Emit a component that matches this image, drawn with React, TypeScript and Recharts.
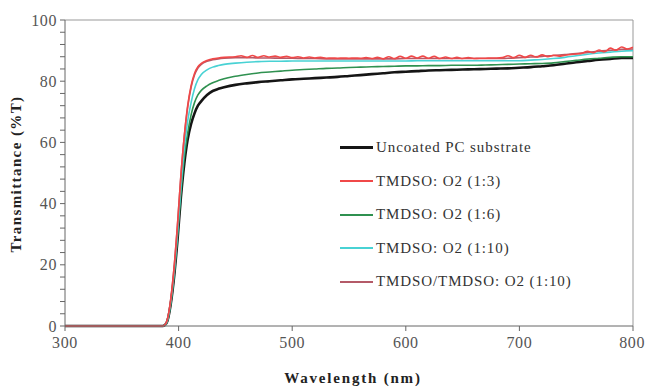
import { LineChart, Line, XAxis, YAxis, ReferenceLine } from 'recharts';

const FONT = '"Liberation Serif", "Times New Roman", serif';

// wavelength grid for the smooth curves (nm)
const WAVELENGTH = [
  300, 386, 388, 390, 393, 396, 399, 402, 405, 408, 411, 414, 417, 420, 425, 430, 435, 440, 450,
  460, 470, 480, 490, 500, 510, 520, 530, 540, 550, 560, 570, 580, 590, 600, 610, 620, 630, 640,
  650, 660, 670, 680, 690, 700, 710, 720, 730, 740, 750, 760, 770, 780, 790, 800,
];

const UNCOATED = [
  0, 0, 0.3, 1.5, 7, 16, 28, 42, 53, 61, 66, 69.5, 72, 73.5, 75.5, 76.8, 77.5, 78, 78.8,
  79.3, 79.7, 80, 80.3, 80.6, 80.8, 81, 81.2, 81.4, 81.7, 82, 82.3, 82.6, 82.9, 83.1, 83.3, 83.5, 83.6, 83.7,
  83.8, 83.9, 84, 84.1, 84.2, 84.4, 84.6, 84.9, 85.2, 85.7, 86.2, 86.6, 87, 87.3, 87.6, 87.6,
];

const RATIO_1_6 = [
  0, 0, 0.3, 1.5, 7, 16.5, 29, 43, 55, 63, 69, 73, 75.5, 77, 78.5, 79.5, 80.2, 80.8, 81.6,
  82.2, 82.7, 83, 83.3, 83.6, 83.8, 84, 84.2, 84.3, 84.5, 84.6, 84.7, 84.8, 84.9, 85, 85, 85.1, 85.1, 85.2,
  85.2, 85.2, 85.3, 85.4, 85.5, 85.6, 85.7, 85.8, 86, 86.4, 86.8, 87.2, 87.5, 87.8, 88, 88,
];

const RATIO_1_10 = [
  0, 0, 0.3, 1.6, 7.5, 17, 30, 45, 58, 67, 73, 77.5, 80.5, 82.2, 83.7, 84.6, 85.1, 85.5, 85.9,
  86.2, 86.4, 86.5, 86.5, 86.6, 86.6, 86.6, 86.6, 86.6, 86.6, 86.6, 86.6, 86.6, 86.6, 86.6, 86.7, 86.7, 86.7, 86.7,
  86.7, 86.7, 86.7, 86.7, 86.7, 86.7, 86.9, 87.1, 87.4, 87.8, 88.3, 88.8, 89.2, 89.5, 89.8, 90,
];

const BILAYER_1_10 = [
  0, 0, 0.4, 2, 8.5, 19, 33, 49, 62, 71.5, 78, 82, 84.3, 85.5, 86.5, 87, 87.3, 87.5, 87.7,
  87.7, 87.6, 87.6, 87.5, 87.5, 87.4, 87.4, 87.3, 87.3, 87.3, 87.3, 87.3, 87.3, 87.3, 87.4, 87.4, 87.4, 87.4, 87.4,
  87.4, 87.4, 87.4, 87.4, 87.5, 87.7, 87.9, 88.1, 88.4, 88.7, 89, 89.4, 89.8, 90.1, 90.4, 90.5,
];

// the 1:3 curve carries interference fringes, so it is read on a finer grid
const WAVELENGTH_FINE = [
  300, 386, 388, 390, 393, 396, 399, 402, 405, 408, 411, 414, 417, 420, 425, 430, 435, 440, 450,
  455, 460, 465, 470, 475, 480, 485, 490, 495, 500, 505, 510, 515, 520, 525, 530, 535, 540, 545, 550,
  555, 560, 565, 570, 575, 580, 585, 590, 595, 600, 605, 610, 615, 620, 625, 630, 635, 640, 645, 650,
  655, 660, 665, 670, 675, 680, 685, 690, 695, 700, 705, 710, 715, 720, 725, 730, 735, 740, 745, 750,
  755, 760, 765, 770, 775, 780, 785, 790, 795, 800,
];

const RATIO_1_3 = [
  0, 0, 0.4, 2, 8.5, 19, 33, 49, 62, 72, 78.5, 82.5, 84.7, 85.8, 86.8, 87.3, 87.6, 87.8, 88,
  88.3, 87.8, 88.4, 87.8, 88.3, 87.9, 88.2, 87.8, 88.1, 87.7, 88, 87.6, 87.9, 87.6, 87.8, 87.5, 87.6, 87.5, 87.6, 87.5,
  87.6, 87.5, 87.7, 87.4, 87.8, 87.3, 88, 87.4, 88.1, 87.5, 88.2, 87.6, 88.2, 87.5, 88.1, 87.4, 87.9, 87.4, 87.8, 87.4,
  87.7, 87.4, 87.5, 87.5, 87.6, 87.6, 87.7, 88.3, 87.7, 88.5, 87.8, 88.5, 87.9, 88.6, 88, 88.5, 88.2, 88.5, 88.7, 88.9,
  89.1, 89.8, 89.3, 90.2, 89.6, 90.8, 90.1, 91.2, 90.5, 91.1,
];

const Y_TICKS = [0, 4, 8, 12, 16, 20, 24, 28, 32, 36, 40, 44, 48, 52, 56, 60, 64, 68, 72, 76, 80, 84, 88, 92, 96, 100];
const X_TICKS = [300, 400, 500, 600, 700, 800];

const toPoints = (xs: number[], ys: number[]) => xs.map((x, i) => ({ x, y: ys[i] }));

const SERIES = [
  { name: 'Uncoated PC substrate', color: '#151515', width: 2.6, data: toPoints(WAVELENGTH, UNCOATED) },
  { name: 'TMDSO: O2 (1:3)', color: '#f04848', width: 1.6, data: toPoints(WAVELENGTH_FINE, RATIO_1_3) },
  { name: 'TMDSO: O2 (1:6)', color: '#2f9150', width: 1.6, data: toPoints(WAVELENGTH, RATIO_1_6) },
  { name: 'TMDSO: O2 (1:10)', color: '#48d2d4', width: 1.6, data: toPoints(WAVELENGTH, RATIO_1_10) },
  { name: 'TMDSO/TMDSO: O2 (1:10)', color: '#b45a68', width: 1.6, data: toPoints(WAVELENGTH, BILAYER_1_10) },
];

// draw order: bilayer under the 1:3 fringes
const DRAW_ORDER = [0, 2, 3, 4, 1];

const tickStyle = { fill: '#555', fontSize: 16, fontFamily: FONT, letterSpacing: 0.6 };

function LegendBox() {
  return (
    <div style={{ position: 'absolute', left: 340, top: 131, fontFamily: FONT, fontSize: 15, letterSpacing: 0.9, color: '#333' }}>
      {SERIES.map(s => (
        <div key={s.name} style={{ display: 'flex', alignItems: 'center', height: 33.5 }}>
          <div style={{ width: 33, height: s.width > 2 ? 3 : 2, background: s.color, marginRight: 3 }} />
          <span>{s.name}</span>
        </div>
      ))}
    </div>
  );
}

export default function App() {
  return (
    <div style={{ position: 'absolute', left: 0, top: 0, width: 645, height: 387, background: '#fff' }}>
      <LineChart width={645} height={387} margin={{ top: 20, right: 12, left: 0, bottom: 0 }}>
        <XAxis
          type="number"
          dataKey="x"
          domain={[300, 800]}
          ticks={X_TICKS}
          allowDataOverflow
          height={61}
          tickSize={5}
          stroke="#666"
          tick={tickStyle}
          tickMargin={6}
          label={{
            content: () => (
              <text x={353} y={383} textAnchor="middle" fontFamily={FONT} fontSize={15} fontWeight="bold" letterSpacing={1.8} fill="#222">
                Wavelength (nm)
              </text>
            ),
          }}
        />
        <YAxis
          type="number"
          dataKey="y"
          domain={[0, 100]}
          ticks={Y_TICKS}
          interval={0}
          width={65}
          tickSize={5}
          stroke="#666"
          tickFormatter={(v: number) => (v % 20 === 0 ? String(v) : '')}
          tick={tickStyle}
          tickMargin={3}
          label={{
            content: () => (
              <text
                x={21}
                y={174}
                transform="rotate(-90 21 174)"
                textAnchor="middle"
                fontFamily={FONT}
                fontSize={15}
                fontWeight="bold"
                letterSpacing={1.4}
                fill="#222"
              >
                Transmittance (%T)
              </text>
            ),
          }}
        />
        <ReferenceLine y={100} stroke="#999" strokeWidth={1} />
        <ReferenceLine x={800} stroke="#999" strokeWidth={1} />
        {DRAW_ORDER.map(i => {
          const s = SERIES[i];
          return (
            <Line
              key={s.name}
              data={s.data}
              dataKey="y"
              name={s.name}
              type="monotone"
              stroke={s.color}
              strokeWidth={s.width}
              dot={false}
              activeDot={false}
              isAnimationActive={false}
            />
          );
        })}
      </LineChart>
      <LegendBox />
    </div>
  );
}
